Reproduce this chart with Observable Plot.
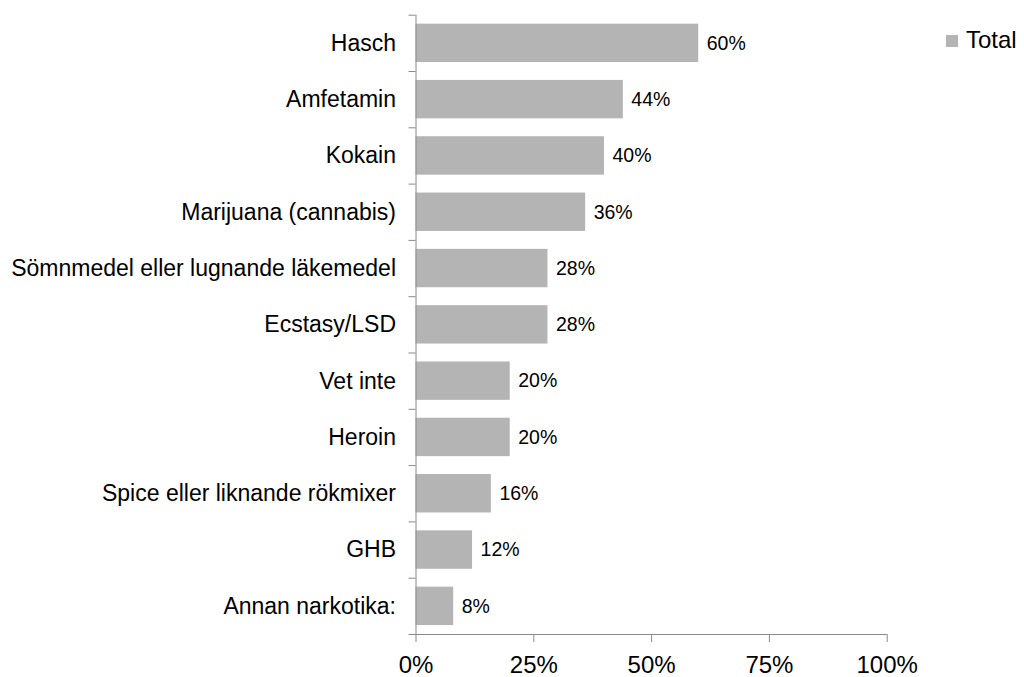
<!DOCTYPE html>
<html>
<head>
<meta charset="utf-8">
<script src="https://cdn.jsdelivr.net/npm/d3@7"></script>
<script src="https://cdn.jsdelivr.net/npm/@observablehq/plot@0.6"></script>
<style>
  html, body { margin: 0; padding: 0; background: #fff; overflow: hidden; }
  #wrap { position: relative; width: 1024px; height: 677px; font-family: "Liberation Sans", Arial, sans-serif; }
  #wrap svg { display: block; }
  #legend { position: absolute; left: 946px; top: 26px; display: flex; align-items: center; font-size: 24px; line-height: 28px; color: #000; }
  #legend .sw { width: 12px; height: 12px; background: #b4b4b5; margin-right: 8px; margin-top: 1px; }
</style>
</head>
<body>
<div id="wrap"><div id="legend"><span class="sw"></span><span class="lab"></span></div></div>
<script>
const categories = ["Hasch", "Amfetamin", "Kokain", "Marijuana (cannabis)", "Sömnmedel eller lugnande läkemedel", "Ecstasy/LSD", "Vet inte", "Heroin", "Spice eller liknande rökmixer", "GHB", "Annan narkotika:"];
const values = [60, 44, 40, 36, 28, 28, 20, 20, 16, 12, 8];
const xTicks = [0, 25, 50, 75, 100];
const seriesName = "Total";

const data = categories.map((c, i) => ({name: c, value: values[i]}));

const W = 1024, H = 677;
const mTop = 14.7, mBottom = 43, mLeft = 415.5, mRight = 137.3;
const step = (H - mTop - mBottom) / categories.length;
const axisGray = "#8a8a8a";
const barGray = "#b4b4b5";

const chart = Plot.plot({
  width: W,
  height: H,
  marginTop: mTop,
  marginBottom: mBottom,
  marginLeft: mLeft,
  marginRight: mRight,
  style: {fontFamily: "'Liberation Sans', Arial, sans-serif", background: "white", color: "black", overflow: "hidden"},
  x: {domain: [0, 100]},
  y: {domain: categories, paddingInner: 0.318, paddingOuter: 0.159, round: false},
  marks: [
    Plot.barX(data, {x: "value", y: "name", fill: barGray}),
    Plot.text(data, {x: "value", y: "name", text: d => d.value + "%", dx: 8, textAnchor: "start", fontSize: 19.5, fill: "black"}),
    Plot.ruleX([0], {stroke: axisGray, strokeWidth: 1}),
    Plot.ruleY(categories, {y: d => d, dy: -step / 2, x1: 0, x2: 0, insetLeft: -7, stroke: axisGray, strokeWidth: 1}),
    Plot.ruleY([categories[categories.length - 1]], {y: d => d, dy: step / 2, x1: 0, x2: 100, insetLeft: -7, stroke: axisGray, strokeWidth: 1}),
    Plot.axisX({ticks: xTicks, tickSize: 8, tickPadding: 13, tickFormat: d => d + "%", fontSize: 24, stroke: axisGray, fill: "black", label: null}),
    Plot.axisY({tickSize: 0, tickPadding: 20, fontSize: 23, fill: "black", label: null})
  ]
});
document.getElementById("wrap").prepend(chart);
document.querySelector("#legend .lab").textContent = seriesName;
</script>
</body>
</html>
